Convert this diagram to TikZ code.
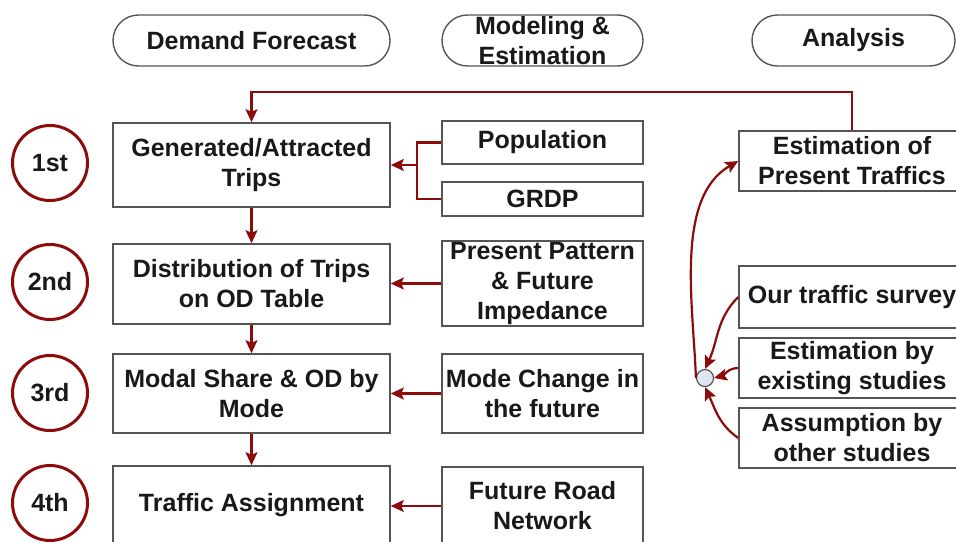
\documentclass[tikz,border=0pt]{standalone}
\usepackage{fontspec}
\setmainfont{Liberation Sans}
\usepackage{tikz}
\usetikzlibrary{
	arrows.meta,
	positioning
}
\definecolor{stepred}{RGB}{140,12,12}
\definecolor{boxgray}{RGB}{85,85,85}
\definecolor{dotfill}{RGB}{222,229,240}
\tikzset{every node/.append style={font=\fontsize{12.5}{15}\selectfont\bfseries,text=black!90}}
\tikzset{
	head/.style={draw=boxgray,line width=0.7pt,rounded corners=12.75pt,minimum height=25.5pt,align=center,inner sep=0pt},
	stage/.style={draw=boxgray,line width=0.8pt,minimum width=138.5pt,align=center,inner sep=0pt},
	input/.style={draw=boxgray,line width=0.8pt,minimum width=100.5pt,align=center,inner sep=0pt},
	source/.style={draw=boxgray,line width=0.8pt,minimum width=113pt,align=center,inner sep=0pt},
	order/.style={circle,draw=stepred,line width=1.5pt,minimum size=37.5pt,inner sep=0pt},
	flow/.style={draw=stepred,line width=1.1pt,-{Stealth[length=6.5pt,width=6pt,inset=1.3pt]}}
}

\begin{document}
\begin{tikzpicture}[x=0.5pt,y=-0.5pt]
	\useasboundingbox (0,0) rectangle (956,541);
	\clip (0,0) rectangle (956,541);

	\node[head,minimum width=138.5pt] (hdemand) at (251.5,40.5) {Demand Forecast};
	\node[head,minimum width=100.5pt] (hmodel) at (542.5,40.5) {Modeling \&\\Estimation};
	\node[head,minimum width=101.5pt] (hanalysis) at (853.5,40.5) {Analysis};

	\node[order] (o1) at (50,163) {1st};
	\node[order] (o2) at (50,282) {2nd};
	\node[order] (o3) at (50,393) {3rd};
	\node[order] (o4) at (50,503) {4th};

	\node[stage,minimum height=42pt] (gen) at (251.5,165) {Generated/Attracted\\Trips};
	\node[stage,minimum height=40pt] (dist) at (251.5,284) {Distribution of Trips\\on OD Table};
	\node[stage,minimum height=39.5pt] (modal) at (251.5,393.5) {Modal Share \& OD by\\Mode};
	\node[stage,minimum height=39pt] (assign) at (251.5,505) {Traffic Assignment};

	\node[input,minimum height=21.5pt] (pop) at (542.5,142.5) {Population};
	\node[input,minimum height=17pt] (grdp) at (542.5,199) {GRDP};
	\node[input,minimum height=42.5pt] (pattern) at (542.5,283.5) {Present Pattern\\\& Future\\Impedance};
	\node[input,minimum height=39.5pt] (change) at (542.5,393.5) {Mode Change in\\the future};
	\node[input,minimum height=39pt] (road) at (542.5,506) {Future Road\\Network};

	\node[source,minimum height=30pt] (present) at (852,161) {Estimation of\\Present Traffics};
	\node[source,minimum height=31pt] (survey) at (852,297) {Our traffic survey};
	\node[source,minimum height=30pt] (existing) at (852,368) {Estimation by\\existing studies};
	\node[source,minimum height=30pt] (other) at (852,438) {Assumption by\\other studies};

	\node[circle,draw=boxgray,fill=dotfill,line width=0.6pt,minimum size=8.5pt,inner sep=0pt] (merge) at (705,378) {};

	\coordinate (join) at (417,165);
	\draw[draw=stepred,line width=1.1pt] (pop.west) -| (join) |- (grdp.west);
	\draw[flow] (join) -- (gen.east);
	\draw[flow] (present.north) -- ++(0,-38) -| (gen.north);

	\draw[flow] (gen) -- (dist);
	\draw[flow] (dist) -- (modal);
	\draw[flow] (modal) -- (assign);

	\draw[flow] (pattern.west) -- (pattern.west -| dist.east);
	\draw[flow] (change.west) -- (change.west -| modal.east);
	\draw[flow] (road.west) -- (road.west -| assign.east);

	\draw[flow] (survey.west) to[out=225,in=65] (merge.north);
	\draw[flow] (existing.west) to[out=180,in=15] (merge.east);
	\draw[flow] (other.west) to[out=145,in=-65] (merge.south);
	\draw[flow] (merge.west) to[out=92,in=-150,looseness=0.85] (present.west);
\end{tikzpicture}
\end{document}
